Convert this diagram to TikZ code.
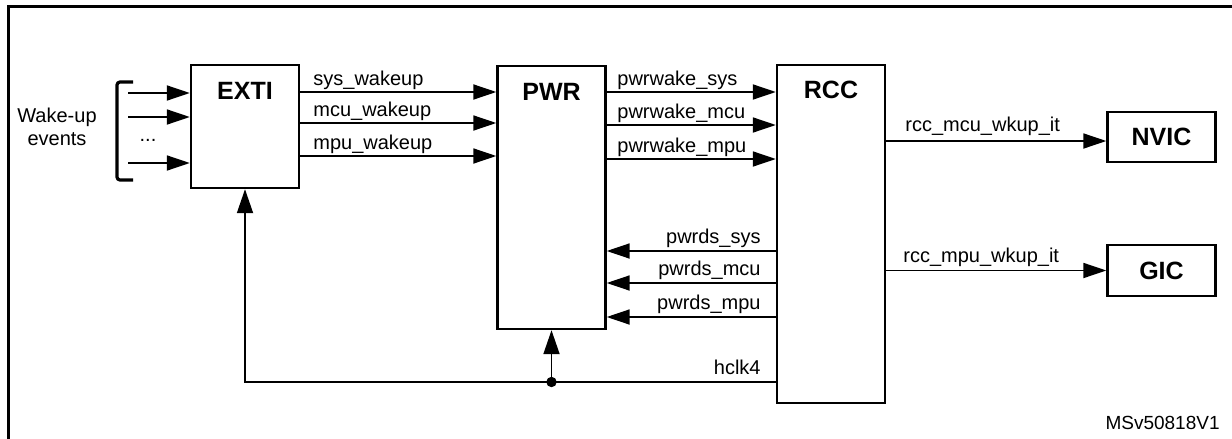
\documentclass[tikz,border=0pt]{standalone}
\usepackage{fontspec}
\setmainfont{Liberation Sans}
\usetikzlibrary{arrows.meta, positioning, calc}

\tikzset{
  block/.style={draw, line width=1.2pt, inner sep=0pt, minimum width=54pt},
  blockname/.style={anchor=base, inner sep=0pt, font=\fontsize{12.5}{14}\selectfont\bfseries},
  sig/.style={line width=0.9pt, -{Triangle[length=11.5pt, width=7.5pt]}},
  sigw/.style={anchor=base west, inner sep=0pt, font=\fontsize{10}{12}\selectfont},
  sige/.style={anchor=base east, inner sep=0pt, font=\fontsize{10}{12}\selectfont}
}

\begin{document}
\begin{tikzpicture}[x=0.5pt, y=-0.5pt]
\useasboundingbox (0,0) rectangle (1232,439);
\draw[line width=1.5pt] (8,450) -- (8,6) -- (1240,6);

% blocks
\node[block, minimum height=61.5pt] (exti) at (245,126.5) {};
\node[block, minimum height=131.5pt] (pwr) at (551.5,197.5) {};
\node[block, minimum height=169pt] (rcc) at (831,234) {};
\node[block, minimum height=25pt, blockname, anchor=center, inner sep=0pt] (nvic) at (1161.5,137) {NVIC};
\node[block, minimum height=25.5pt, blockname, anchor=center, inner sep=0pt] (gic) at (1161.5,270.5) {GIC};
\node[blockname] (extiname) at (exti.north |- 0,99) {EXTI};
\node[blockname] (pwrname) at (pwr.north |- 0,100) {PWR};
\node[blockname] (rccname) at (rcc.north |- 0,98) {RCC};

% wake-up events
\node[align=center, inner sep=0pt, font=\fontsize{10}{11.5}\selectfont] (events) at (57,127) {Wake-up\\events};
\draw[line width=1.6pt, rounded corners=1.5pt] (133,82) -- (117,82) -- (117,180) -- (133,180);
\coordinate (in1) at (128,93);
\coordinate (in2) at (128,117);
\coordinate (in3) at (128,163);
\draw[sig] (in1) -- (exti.west |- in1);
\draw[sig] (in2) -- (exti.west |- in2);
\draw[sig] (in3) -- (exti.west |- in3);
\node[anchor=base, inner sep=0pt, font=\fontsize{10}{12}\selectfont] (dots) at (148,141) {...};

% EXTI to PWR
\draw[sig] (exti.east |- 0,92) -- (pwr.west |- 0,92);
\draw[sig] (exti.east |- 0,123) -- (pwr.west |- 0,123);
\draw[sig] (exti.east |- 0,156) -- (pwr.west |- 0,156);
\node[sigw] (syswk) at (313,85) {sys\_wakeup};
\node[sigw] (mcuwk) at (313,116) {mcu\_wakeup};
\node[sigw] (mpuwk) at (313,149) {mpu\_wakeup};

% PWR to RCC
\draw[sig] (pwr.east |- 0,92) -- (rcc.west |- 0,92);
\draw[sig] (pwr.east |- 0,125) -- (rcc.west |- 0,125);
\draw[sig] (pwr.east |- 0,159) -- (rcc.west |- 0,159);
\node[sigw] (pwsys) at (617,85) {pwrwake\_sys};
\node[sigw] (pwmcu) at (617,118) {pwrwake\_mcu};
\node[sigw] (pwmpu) at (617,152) {pwrwake\_mpu};

% RCC to PWR
\draw[sig] (rcc.west |- 0,251) -- (pwr.east |- 0,251);
\draw[sig] (rcc.west |- 0,283) -- (pwr.east |- 0,283);
\draw[sig] (rcc.west |- 0,317) -- (pwr.east |- 0,317);
\node[sige] (pdsys) at (761,243) {pwrds\_sys};
\node[sige] (pdmcu) at (761,275) {pwrds\_mcu};
\node[sige] (pdmpu) at (761,309) {pwrds\_mpu};

% hclk4
\coordinate (tap) at (pwr.south |- 0,382);
\draw[line width=0.9pt, -{Triangle[length=12pt, width=8pt]}] (rcc.west |- tap) -| (exti.south);
\draw[line width=0.9pt, -{Triangle[length=12pt, width=8pt]}] (tap) -- (pwr.south);
\fill (tap) circle (2.6pt);
\node[sige] (hclk) at (761,374) {hclk4};

% RCC to interrupt controllers
\draw[sig] (rcc.east |- 0,141) -- (nvic.west |- 0,141);
\draw[sig] (rcc.east |- gic.west) -- (gic.west);
\node[sigw] (mcuit) at (905,131) {rcc\_mcu\_wkup\_it};
\node[sigw] (mpuit) at (903,262) {rcc\_mpu\_wkup\_it};

\node[anchor=base east, inner sep=0pt, font=\fontsize{9.5}{11}\selectfont] (ref) at (1220,429) {MSv50818V1};
\end{tikzpicture}
\end{document}
